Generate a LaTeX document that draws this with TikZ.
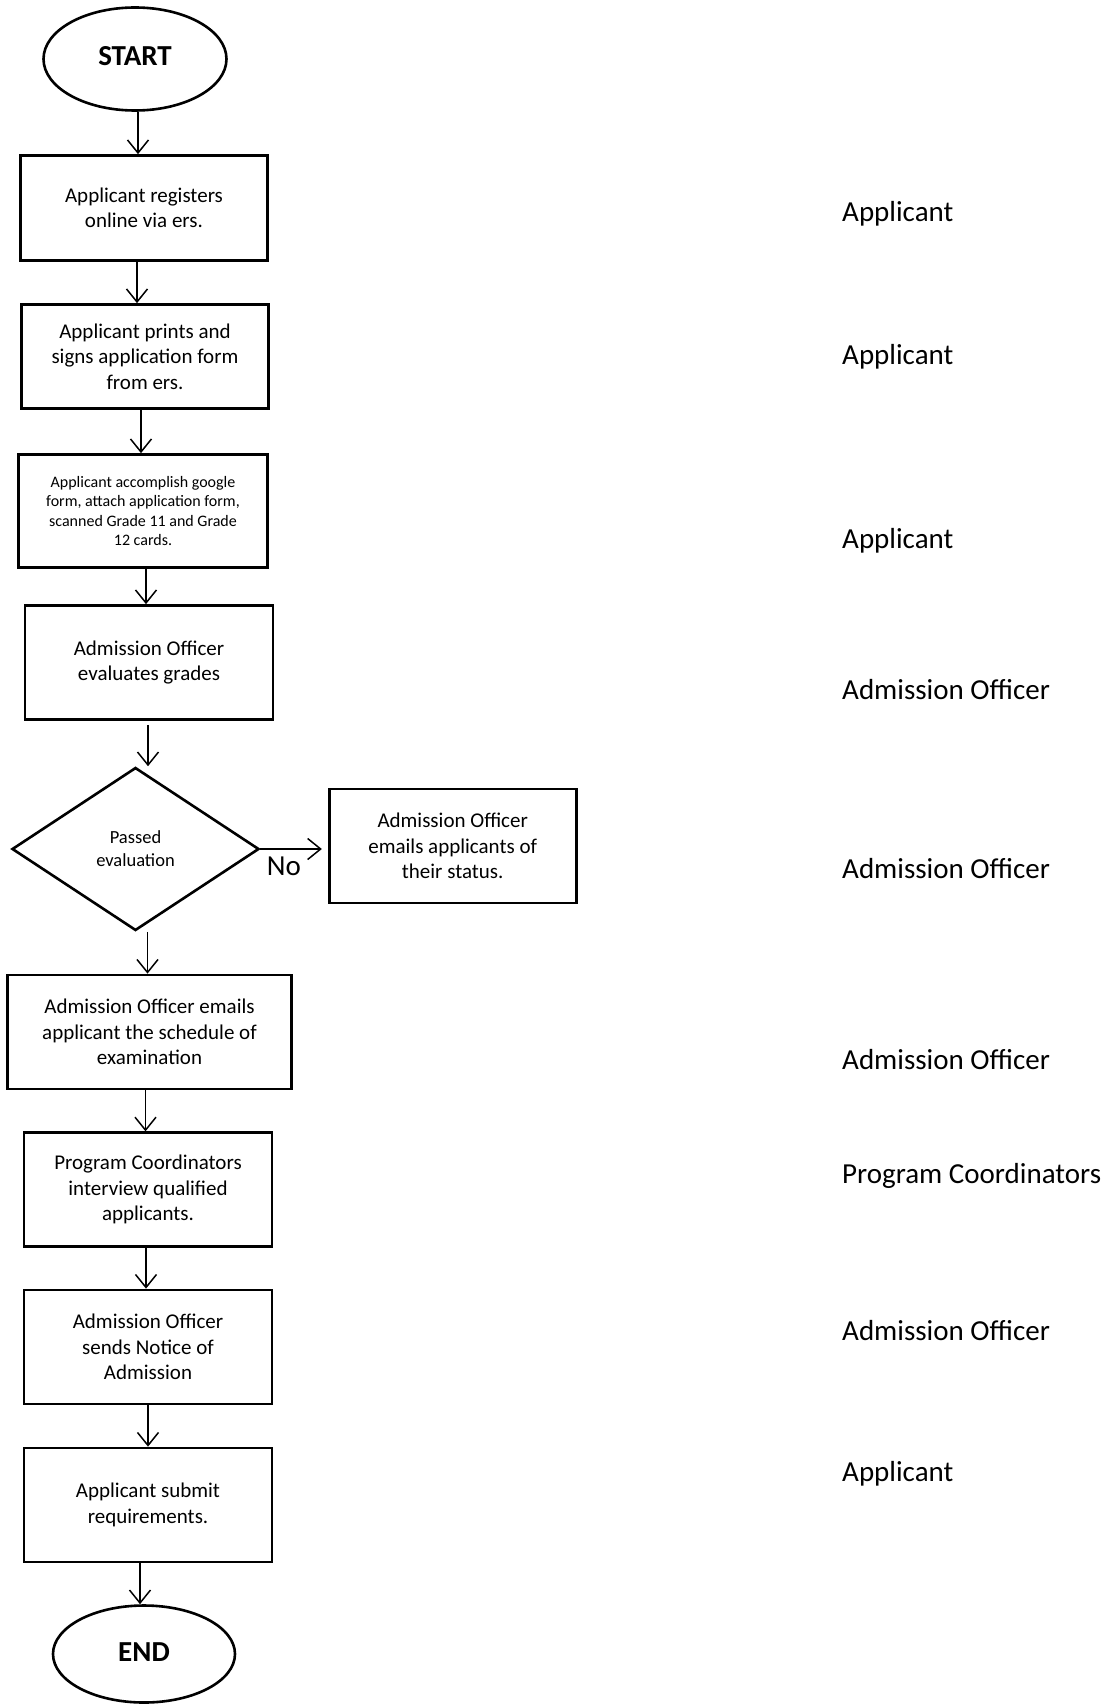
\documentclass[tikz,border=0pt]{standalone}
\usepackage{fontspec}
\setmainfont{Carlito}
\usetikzlibrary{shapes.geometric,arrows.meta,calc}
\begin{document}
\begin{tikzpicture}[x=1pt,y=-1pt,
  stepbox/.style={draw,line width=2.7pt,rectangle,inner sep=0pt,align=center,
    font=\fontsize{21}{25.5}\selectfont},
  term/.style={draw,line width=2.6pt,ellipse,inner sep=0pt,
    font=\fontsize{29}{34}\selectfont\bfseries},
  decide/.style={draw,line width=2.6pt,diamond,inner sep=0pt,align=center,
    font=\fontsize{18.5}{23}\selectfont},
  role/.style={anchor=west,inner sep=0pt,font=\fontsize{29}{34}\selectfont},
  arr/.style={line width=1.5pt,-{Straight Barb[length=13pt,width=21pt,line width=1.5pt]}}
]
\useasboundingbox (0,0) rectangle (1113,1704);
\fill[white] (0,0) rectangle (1113,1704);

\node[term,minimum width=183pt,minimum height=103pt] (start) at (135,59) {\raisebox{7pt}{START}};
\node[stepbox,minimum width=247pt,minimum height=105pt] (b1) at (144,208) {Applicant registers\\online via ers.};
\node[stepbox,minimum width=247pt,minimum height=104pt] (b2) at (145,356.5) {Applicant prints and\\signs application form\\from ers.};
\node[stepbox,minimum width=249pt,minimum height=113pt,font=\fontsize{16}{19.6}\selectfont] (b3) at (143,511) {Applicant accomplish google\\form, attach application form,\\scanned Grade 11 and Grade\\12 cards.};
\node[stepbox,minimum width=248pt,minimum height=114pt] (b4) at (149,662.5) {Admission Officer\\evaluates grades};
\node[decide,minimum width=247pt,minimum height=163pt] (dec) at (135.5,849) {Passed\\evaluation};
\node[stepbox,minimum width=247pt,minimum height=114pt] (no) at (452.7,846) {Admission Officer\\emails applicants of\\their status.};
\node[stepbox,minimum width=284pt,minimum height=114pt] (b5) at (149.5,1032) {Admission Officer emails\\applicant the schedule of\\examination};
\node[stepbox,minimum width=248pt,minimum height=114pt] (b6) at (148,1189.7) {Program Coordinators\\interview qualified\\applicants.};
\node[stepbox,minimum width=248pt,minimum height=114pt] (b7) at (148,1347) {Admission Officer\\sends Notice of\\Admission};
\node[stepbox,minimum width=248pt,minimum height=114pt] (b8) at (148,1505) {Applicant submit\\requirements.};
\node[term,minimum width=182pt,minimum height=97pt] (end) at (144,1654) {\raisebox{4pt}{END}};

\node[inner sep=0pt,font=\fontsize{29}{34}\selectfont] (nolabel) at (284,866) {No};

% arrows
\draw[arr] ([xshift=3pt]start.south) -- ([xshift=3pt]start.south |- b1.north);
\draw[arr] ([xshift=-7pt]b1.south) -- ([xshift=-7pt]b1.south |- b2.north);
\draw[arr] ([xshift=-4pt]b2.south) -- ([xshift=-4pt]b2.south |- b3.north);
\draw[arr] ([xshift=3pt]b3.south) -- ([xshift=3pt]b3.south |- b4.north);
\draw[arr] ([xshift=-1pt,yshift=-4pt]b4.south) -- ([xshift=-1pt]b4.south |- dec.north);
\draw[arr] ([xshift=12pt]dec.south) -- ([xshift=12pt]dec.south |- b5.north);
\draw[arr] ([xshift=-4pt]b5.south) -- ([xshift=-4pt]b5.south |- b6.north);
\draw[arr] ([xshift=-2pt]b6.south) -- ([xshift=-2pt]b6.south |- b7.north);
\draw[arr] ([xshift=0pt]b7.south) -- ([xshift=0pt]b7.south |- b8.north);
\draw[arr] ([xshift=-8pt]b8.south) -- ([xshift=-8pt]b8.south |- end.north);
\draw[arr,shorten >=6pt] (dec.east) -- (dec.east -| no.west);

% roles
\node[role] (r1) at (842,214) {Applicant};
\node[role] (r2) at (842,356.5) {Applicant};
\node[role] (r3) at (842,541) {Applicant};
\node[role] (r4) at (842,690) {Admission Officer};
\node[role] (r5) at (842,868.5) {Admission Officer};
\node[role] (r6) at (842,1059.7) {Admission Officer};
\node[role] (r7) at (842,1176) {Program Coordinators};
\node[role] (r8) at (842,1330.5) {Admission Officer};
\node[role] (r9) at (842,1474) {Applicant};
\end{tikzpicture}
\end{document}
